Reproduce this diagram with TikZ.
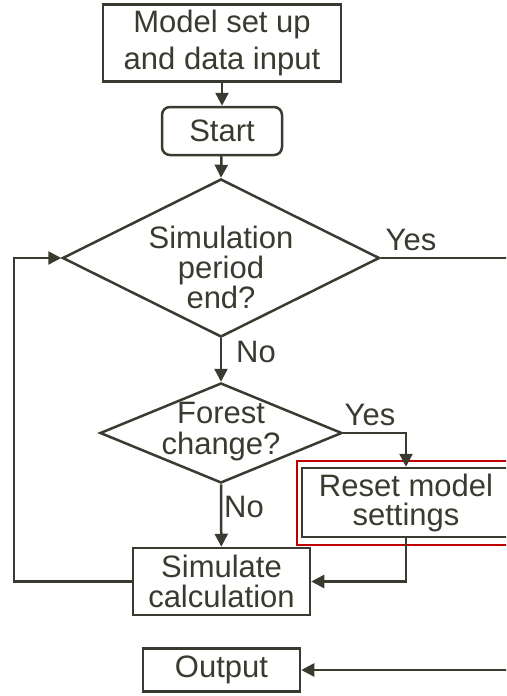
\documentclass[tikz,border=0pt]{standalone}
\usepackage{fontspec}
\setmainfont{Liberation Sans}
\usetikzlibrary{shapes.geometric,arrows.meta}
\definecolor{ink}{HTML}{3A3A30}
\definecolor{redline}{HTML}{C00000}
\begin{document}
\begin{tikzpicture}[x=1pt,y=-1pt,
  ln/.style={draw=ink,line width=2.5pt},
  arr/.style={ln,-{Triangle[length=13pt,width=13pt]}},
  box/.style={draw=ink,line width=2.5pt,text=ink,align=center,inner sep=0pt,font=\fontsize{31}{37}\selectfont},
  dia/.style={diamond,draw=ink,line width=2.5pt,inner sep=0pt},
  lbl/.style={text=ink,inner sep=0pt,font=\fontsize{31}{31}\selectfont,align=center}]
\useasboundingbox (0,0) rectangle (506,696);
\clip (0,0) rectangle (506,696);
\node[box,minimum width=238pt,minimum height=77pt] (setup) at (222,43) {Model set up\\and data input};
\node[box,rounded corners=8pt,minimum width=120pt,minimum height=48pt] (start) at (222,131) {Start};
\node[dia,minimum width=317pt,minimum height=158pt] (d1) at (221,258) {};
\node[lbl,font=\fontsize{31}{30}\selectfont] (d1t) at (221,267) {Simulation\\period\\end?};
\node[dia,minimum width=242pt,minimum height=100pt] (d2) at (221,433) {};
\node[lbl] (d2t) at (221,432) {Forest\\change?};
\node[box,font=\fontsize{31}{30}\selectfont,minimum width=177pt,minimum height=67pt] (sim) at (221.5,581.5) {Simulate\\calculation};
\node[draw=redline,line width=1.8pt,minimum width=218pt,minimum height=84pt,inner sep=0pt] (red) at (406,503) {};
\node[box,font=\fontsize{31}{29}\selectfont,minimum width=208pt,minimum height=69pt] (reset) at (406,502.5) {Reset model\\settings};
\node[box,minimum width=157pt,minimum height=43pt] (out) at (221.5,670) {Output};
\coordinate (yesend) at (512,258);
\coordinate (lb) at (14,581.5);
\coordinate (lt) at (14,258);
\coordinate (outsrc) at (512,670);
\draw[arr] (setup) -- (start);
\draw[arr] (start) -- (d1.north);
\draw[arr] (d1.south) -- (d2.north);
\draw[arr] (d2.south) -- (sim);
\draw[ln] (d1.east) -- (yesend);
\draw[arr] (d2.east) -| (reset.north);
\draw[arr] (reset.south) |- (sim.east);
\draw[arr] (sim.west) -- (lb) -- (lt) -- (d1.west);
\draw[arr] (outsrc) -- (out.east);
\node[lbl] (yes1) at (411,240) {Yes};
\node[lbl] (no1) at (256,352) {No};
\node[lbl] (yes2) at (370,415) {Yes};
\node[lbl] (no2) at (244,507) {No};
\end{tikzpicture}
\end{document}
